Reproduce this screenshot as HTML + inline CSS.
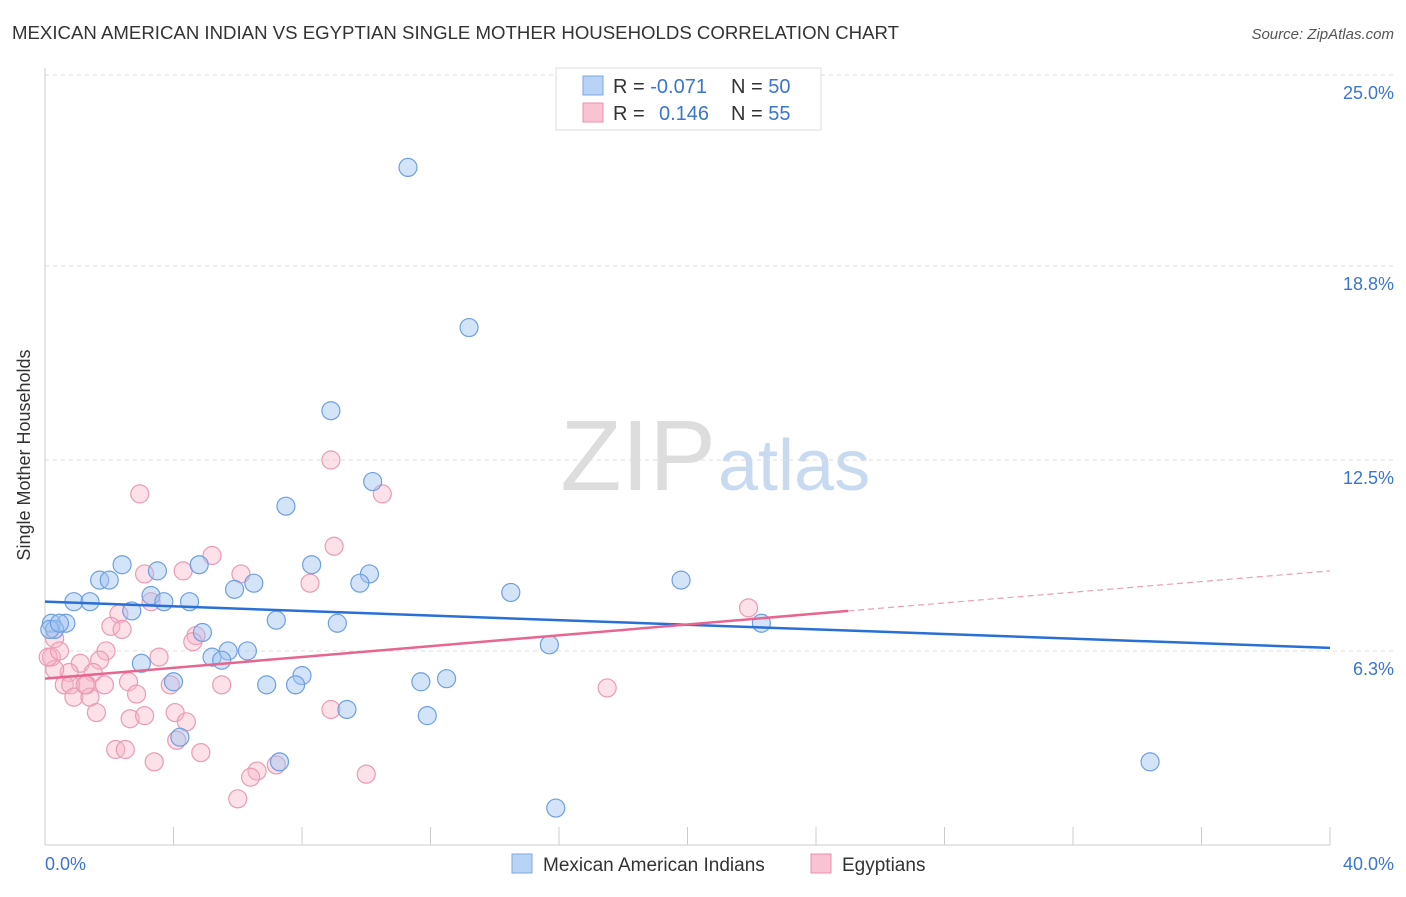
<!DOCTYPE html>
<html><head><meta charset="utf-8"><style>
body{margin:0;background:#fff;font-family:"Liberation Sans",sans-serif;}
svg text{font-family:"Liberation Sans",sans-serif;}
</style></head><body>
<svg id="chart" width="1406" height="892" xmlns="http://www.w3.org/2000/svg">
<text x="12" y="39" font-size="18.5" fill="#333" textLength="887" lengthAdjust="spacingAndGlyphs">MEXICAN AMERICAN INDIAN VS EGYPTIAN SINGLE MOTHER HOUSEHOLDS CORRELATION CHART</text>
<text x="1394" y="39" font-size="15" fill="#555" font-style="italic" text-anchor="end">Source: ZipAtlas.com</text>
<text x="716" y="490" font-size="100" fill="#ddd" font-family="Liberation Serif" text-anchor="end">ZIP</text>
<text x="718" y="490" font-size="72" fill="#c8daf0">atlas</text>
<g id="grid"></g>
<line x1="45" y1="68" x2="45" y2="845" stroke="#ccc"/>
<line x1="45" y1="845" x2="1330" y2="845" stroke="#ccc"/>
<text x="30" y="455" font-size="18" fill="#333" transform="rotate(-90 30 455)" text-anchor="middle">Single Mother Households</text>
<text x="45" y="870" font-size="18" fill="#3a75d0">0.0%</text>
<text x="1394" y="870" font-size="18" fill="#3a75d0" text-anchor="end">40.0%</text>
<g id="points"></g>
<g id="lines"></g>
<g>
<rect x="556" y="68" width="265" height="62" fill="#fff" stroke="#ddd"/>
<rect x="583" y="76" width="20" height="19" fill="#b8d3f5" stroke="#7aa8e0"/>
<rect x="583" y="103" width="20" height="19" fill="#f9c3d3" stroke="#ec8fab"/>
<text x="613" y="93" font-size="20" fill="#333">R = <tspan fill="#3a75d0">-0.071</tspan><tspan x="731">N = </tspan><tspan fill="#3a75d0">50</tspan></text>
<text x="613" y="120" font-size="20" fill="#333">R = <tspan x="659" fill="#3a75d0">0.146</tspan><tspan x="731">N = </tspan><tspan fill="#3a75d0">55</tspan></text>
</g>
<g>
<rect x="512" y="854" width="20" height="19" fill="#b8d3f5" stroke="#7aa8e0"/>
<text x="543" y="871" font-size="19" fill="#333">Mexican American Indians</text>
<rect x="811" y="854" width="20" height="19" fill="#f9c3d3" stroke="#ec8fab"/>
<text x="842" y="871" font-size="19" fill="#333">Egyptians</text>
</g>
</svg>
<script>
const yTicks=[6.3,12.5,18.8,25.0];
const yTickLabels=["6.3%","12.5%","18.8%","25.0%"];
const xTicks=[0,4,8,12,16,20,24,28,32,36,40];
const blueX=[11.3,13.2,8.9,10.2,7.5,2.4,3.5,1.7,2.0,8.3,10.1,6.5,9.8,5.9,19.8,14.5,4.8,3.3,0.9,1.4,4.5,3.7,2.7,7.2,9.1,22.3,0.65,0.2,0.3,4.9,15.7,5.7,6.3,5.2,5.5,3.0,8.0,4.0,6.9,7.8,11.7,12.5,9.4,11.9,4.2,7.3,34.4,15.9,0.15,0.45];
const blueY=[22.0,16.8,14.1,11.8,11.0,9.1,8.9,8.6,8.6,9.1,8.8,8.5,8.5,8.3,8.6,8.2,9.1,8.1,7.9,7.9,7.9,7.9,7.6,7.3,7.2,7.2,7.2,7.2,7.0,6.9,6.5,6.3,6.3,6.1,6.0,5.9,5.5,5.3,5.2,5.2,5.3,5.4,4.4,4.2,3.5,2.7,2.7,1.2,7.0,7.2];
const pinkX=[2.95,8.9,10.5,9.0,5.2,4.3,3.1,6.1,8.25,3.3,2.3,21.9,2.05,2.4,4.7,4.6,0.3,1.9,3.55,1.7,0.2,1.1,0.75,1.5,0.3,1.3,2.6,3.9,5.5,0.6,0.8,1.85,0.9,2.85,1.4,17.5,1.6,8.9,2.65,3.1,4.05,4.4,4.1,2.2,2.5,4.85,3.4,7.2,6.6,6.4,10.0,6.0,0.1,0.45,1.25];
const pinkY=[11.4,12.5,11.4,9.7,9.4,8.9,8.8,8.8,8.5,7.9,7.5,7.7,7.1,7.0,6.8,6.6,6.7,6.3,6.1,6.0,6.1,5.9,5.6,5.6,5.7,5.2,5.3,5.2,5.2,5.2,5.2,5.2,4.8,4.9,4.8,5.1,4.3,4.4,4.1,4.2,4.3,4.0,3.4,3.1,3.1,3.0,2.7,2.6,2.4,2.2,2.3,1.5,6.1,6.3,5.2];
const blueTrend=[7.9,6.4];
const pinkTrend=[5.4,7.6,8.9];
const X0=45,X1=1330,Y0=845,YS=30.8;
const sx=v=>X0+(X1-X0)*v/40, sy=v=>Y0-v*YS;
const NS="http://www.w3.org/2000/svg";
const grid=document.getElementById('grid');
yTicks.forEach((t,i)=>{
 const l=document.createElementNS(NS,'line');
 l.setAttribute('x1',X0);l.setAttribute('x2',1394);l.setAttribute('y1',sy(t));l.setAttribute('y2',sy(t));
 l.setAttribute('stroke','#ddd');l.setAttribute('stroke-dasharray','4,4');
 
 
 grid.appendChild(l);
 const tx=document.createElementNS(NS,'text');
 tx.setAttribute('x',1394);tx.setAttribute('y',sy(t)+24);tx.setAttribute('text-anchor','end');
 tx.setAttribute('font-size','18');tx.setAttribute('fill','#3a75d0');tx.textContent=yTickLabels[i];
 
 
 grid.appendChild(tx);
});
xTicks.forEach(t=>{
 const l=document.createElementNS(NS,'line');
 l.setAttribute('x1',sx(t));l.setAttribute('x2',sx(t));l.setAttribute('y1',Y0);l.setAttribute('y2',Y0-18);
 l.setAttribute('stroke','#ccc');
 
 
 grid.appendChild(l);
});
const pts=document.getElementById('points');
function dots(xs,ys,fill,stroke,name){
 xs.forEach((x,i)=>{
  const c=document.createElementNS(NS,'circle');
  c.setAttribute('cx',sx(x));c.setAttribute('cy',sy(ys[i]));c.setAttribute('r',9);
  c.setAttribute('fill',fill);c.setAttribute('stroke',stroke);c.setAttribute('stroke-width','1.2');
  
  
  pts.appendChild(c);
 });
}
dots(pinkX,pinkY,'rgba(248,180,200,0.4)','#ec9ab3','egyptian-point');
dots(blueX,blueY,'rgba(160,195,240,0.45)','#6f9fe0','mexican-point');
const lines=document.getElementById('lines');
function ln(x1,y1,x2,y2,col,w,dash,name){
 const l=document.createElementNS(NS,'line');
 l.setAttribute('x1',sx(x1));l.setAttribute('y1',sy(y1));l.setAttribute('x2',sx(x2));l.setAttribute('y2',sy(y2));
 l.setAttribute('stroke',col);l.setAttribute('stroke-width',w);if(dash)l.setAttribute('stroke-dasharray',dash);
 
 
 lines.appendChild(l);
}
ln(0,blueTrend[0],40,blueTrend[1],'#2a6fd6',2.5,null,'mexican-trend-line');
ln(0,pinkTrend[0],25,pinkTrend[1],'#e8658f',2.5,null,'egyptian-trend-line');
ln(25,pinkTrend[1],40,pinkTrend[2],'#e8a0b5',1.2,'6,4','egyptian-trend-extension');
</script>
</body></html>
